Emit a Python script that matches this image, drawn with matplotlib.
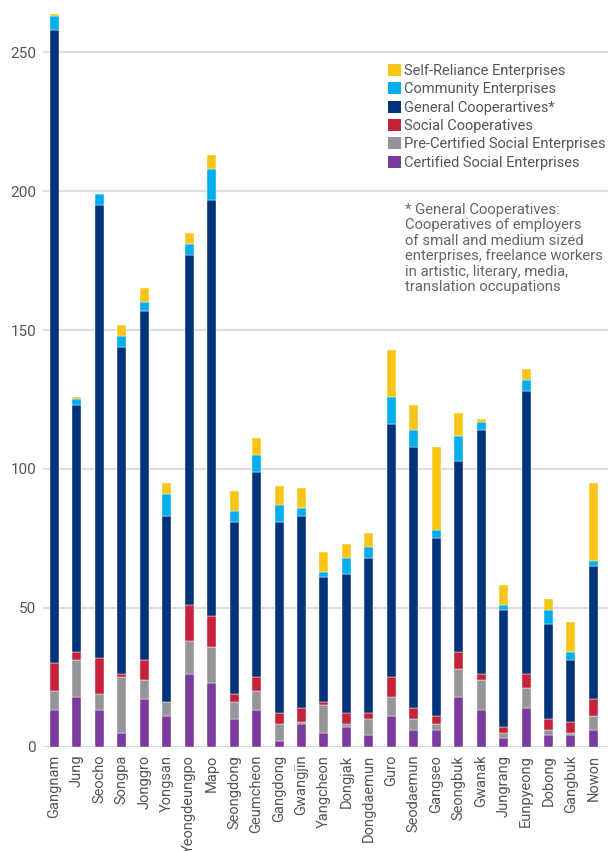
import matplotlib
matplotlib.use('Agg')
import matplotlib.pyplot as plt
import numpy as np
from matplotlib.patches import Patch

plt.rcParams['font.family'] = ['Roboto', 'DejaVu Sans']

districts = ["Gangnam", "Jung", "Seocho", "Songpa", "Jonggro", "Yongsan", "Yeongdeungpo",
             "Mapo", "Seongdong", "Geumcheon", "Gangdong", "Gwangjin", "Yangcheon", "Dongjak",
             "Dongdaemun", "Guro", "Seodaemun", "Gangseo", "Seongbuk", "Gwanak", "Jungrang",
             "Eunpyeong", "Dobong", "Gangbuk", "Nowon"]

certified = [13, 18, 13, 5, 17, 11, 26, 23, 10, 13, 2, 8, 5, 7, 4, 11, 6, 6, 18, 13, 3, 14, 4, 4, 6]
pre_certified = [7, 13, 6, 20, 7, 5, 12, 13, 6, 7, 6, 1, 10, 1, 6, 7, 4, 2, 10, 11, 2, 7, 2, 1, 5]
social_coop = [10, 3, 13, 1, 7, 0, 13, 11, 3, 5, 4, 5, 1, 4, 2, 7, 4, 3, 6, 2, 2, 5, 4, 4, 6]
general_coop = [228, 89, 163, 118, 126, 67, 126, 150, 62, 74, 69, 69, 45, 50, 56, 91, 94, 64, 69,
                88, 42, 102, 34, 22, 48]
community = [5, 2, 4, 4, 3, 8, 4, 11, 4, 6, 6, 3, 2, 6, 4, 10, 6, 3, 9, 3, 2, 4, 5, 3, 2]
self_reliance = [1, 1, 0, 4, 5, 4, 4, 5, 7, 6, 7, 7, 7, 5, 5, 17, 9, 30, 8, 1, 7, 4, 4, 11, 28]

series_labels = ["Certified Social Enterprises", "Pre-Certified Social Enterprises",
                 "Social Cooperatives", "General Cooperartives*", "Community Enterprises",
                 "Self-Reliance Enterprises"]
series_colors = ['#7a3a9e', '#939598', '#c8213a', '#00337a', '#00aeef', '#f9c418']
series = [certified, pre_certified, social_coop, general_coop, community, self_reliance]

note = ("* General Cooperatives:\n"
        "Cooperatives of employers\n"
        "of small and medium sized\n"
        "enterprises, freelance workers\n"
        "in artistic, literary, media,\n"
        "translation occupations")

fig = plt.figure(figsize=(6.08, 8.51), dpi=100)
ax = fig.add_axes([43 / 608, (851 - 746.5) / 851, 1 - 43 / 608, 744 / 851])

x = np.arange(len(districts))
bottom = np.zeros(len(districts))
for vals, lab, col in zip(series, series_labels, series_colors):
    vals = np.array(vals, dtype=float)
    ax.bar(x, vals, 0.4, bottom=bottom, color=col, label=lab,
           edgecolor='white', linewidth=0.3, zorder=3)
    bottom += vals

ax.set_ylim(0, 268)
ax.set_xlim(-0.51, 24.65)
ax.set_yticks([0, 50, 100, 150, 200, 250])
ax.set_xticks(x)
ax.set_xticklabels(districts, rotation=90, fontsize=10.5, color='#555555')
ax.tick_params(axis='y', labelsize=11, colors='#555555', length=0, pad=5)
ax.tick_params(axis='x', length=0, pad=6)
ax.grid(axis='y', color='#dddddd', linewidth=1.5, zorder=0)
for s in ax.spines.values():
    s.set_visible(False)

# legend: top series first
handles = [Patch(facecolor=c, label=l) for c, l in zip(series_colors, series_labels)][::-1]
leg = ax.legend(handles=handles, loc='upper left', bbox_to_anchor=(388 / 608, 1 - 64 / 851),
                bbox_transform=fig.transFigure, frameon=False, fontsize=10.5,
                handlelength=0.9, handleheight=0.9, handletextpad=0.22,
                labelspacing=0.29, borderaxespad=0, borderpad=0)
for t in leg.get_texts():
    t.set_color('#555555')

fig.text(405 / 608, 1 - 203 / 851, note, fontsize=10.7, color='#666666', va='top', ha='left',
         linespacing=1.13)

fig.savefig('out.png', dpi=100)
